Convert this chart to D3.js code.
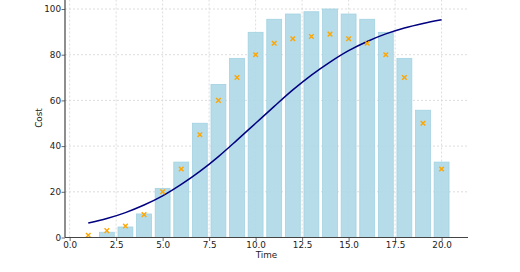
<!DOCTYPE html>
<html><head><meta charset="utf-8">
<script src="https://cdn.jsdelivr.net/npm/d3@7"></script>
<style>body{margin:0;background:#fff}svg{display:block}text{font-family:"DejaVu Sans",sans-serif}</style>
</head><body><svg id="c" width="520" height="272"></svg>
<script>
const times = [1,2,3,4,5,6,7,8,9,10,11,12,13,14,15,16,17,18,19,20];
const barValues = [0,2.3,4.6,10.3,21.5,33,50,67,78.4,89.8,95.5,97.8,98.8,100,97.8,95.5,89.8,78.4,55.7,33];
const markerValues = [1,3,5,10,20,30,45,60,70,80,85,87,88,89,87,85,80,70,50,30];
const curveValues = [6.3,8.3,10.9,14.2,18.2,23.2,28.9,35.4,42.6,50,57.4,64.6,71.1,76.8,81.8,85.8,89.1,91.7,93.7,95.3];
const xTicks = [0,2.5,5,7.5,10,12.5,15,17.5,20];
const yTicks = [0,20,40,60,80,100];

const svg = d3.select("#c");
const L = 65, R = 468, B = 237.5;
const x = d3.scaleLinear().domain([-0.25, 21.42]).range([L, R]);
const y = d3.scaleLinear().domain([0, 100]).range([B, 9]);
const FS = "8.8px";

// grid
const g = svg.append("g");
g.selectAll(".gx").data(xTicks).join("line")
  .attr("x1", d => x(d)).attr("x2", d => x(d)).attr("y1", B).attr("y2", 0)
  .attr("stroke", "#d4d4d4").attr("stroke-width", 0.8).attr("stroke-dasharray", "2,2");
g.selectAll(".gy").data(yTicks).join("line")
  .attr("x1", L).attr("x2", R).attr("y1", d => y(d)).attr("y2", d => y(d))
  .attr("stroke", "#d4d4d4").attr("stroke-width", 0.8).attr("stroke-dasharray", "2,2");

// bars
const bw = x(0.8) - x(0);
svg.append("g").selectAll("rect").data(times).join("rect")
  .attr("x", (d) => x(d - 0.4)).attr("width", bw)
  .attr("y", (d, i) => y(barValues[i])).attr("height", (d, i) => B - y(barValues[i]))
  .attr("fill", "#add8e6").attr("fill-opacity", 0.9)
  .attr("stroke", "#a3d2e2").attr("stroke-width", 0.8);

// curve
const line = d3.line().x((d) => x(d)).y((d, i) => y(curveValues[i])).curve(d3.curveMonotoneX);
svg.append("path").datum(times).attr("d", line)
  .attr("fill", "none").attr("stroke", "#000080").attr("stroke-width", 1.5);

// markers
const s = 2.3;
svg.append("g").selectAll("path").data(times).join("path")
  .attr("d", (d, i) => {
    const cx = x(d), cy = y(markerValues[i]);
    return `M${cx-s},${cy-s}L${cx+s},${cy+s}M${cx-s},${cy+s}L${cx+s},${cy-s}`;
  })
  .attr("stroke", "#FFA500").attr("stroke-width", 1.4).attr("fill", "none");

// axes
const xa = svg.append("g").attr("transform", `translate(0,${B})`)
  .call(d3.axisBottom(x).tickValues(xTicks).tickFormat(d3.format(".1f")).tickSize(3.5).tickPadding(0.5));
const ya = svg.append("g").attr("transform", `translate(${L},0)`)
  .call(d3.axisLeft(y).tickValues(yTicks).tickSize(3.5).tickPadding(0.5));
[xa, ya].forEach(a => {
  a.select(".domain").attr("stroke", "#444").attr("stroke-width", 1.2);
  a.selectAll(".tick line").attr("stroke", "#444").attr("stroke-width", 0.8);
  a.selectAll("text").attr("fill", "#222").style("font-size", FS).style("font-family", "DejaVu Sans");
});
xa.select(".domain").attr("d", `M${L},0H${R}`);
ya.select(".domain").attr("d", `M0,${B}V0`);

svg.append("text").attr("x", (L + R) / 2).attr("y", 258).attr("text-anchor", "middle")
  .attr("fill", "#222").style("font-size", FS).text("Time");
svg.append("text").attr("transform", `translate(41.7,118) rotate(-90)`).attr("text-anchor", "middle")
  .attr("fill", "#222").style("font-size", FS).text("Cost");
</script></body></html>
